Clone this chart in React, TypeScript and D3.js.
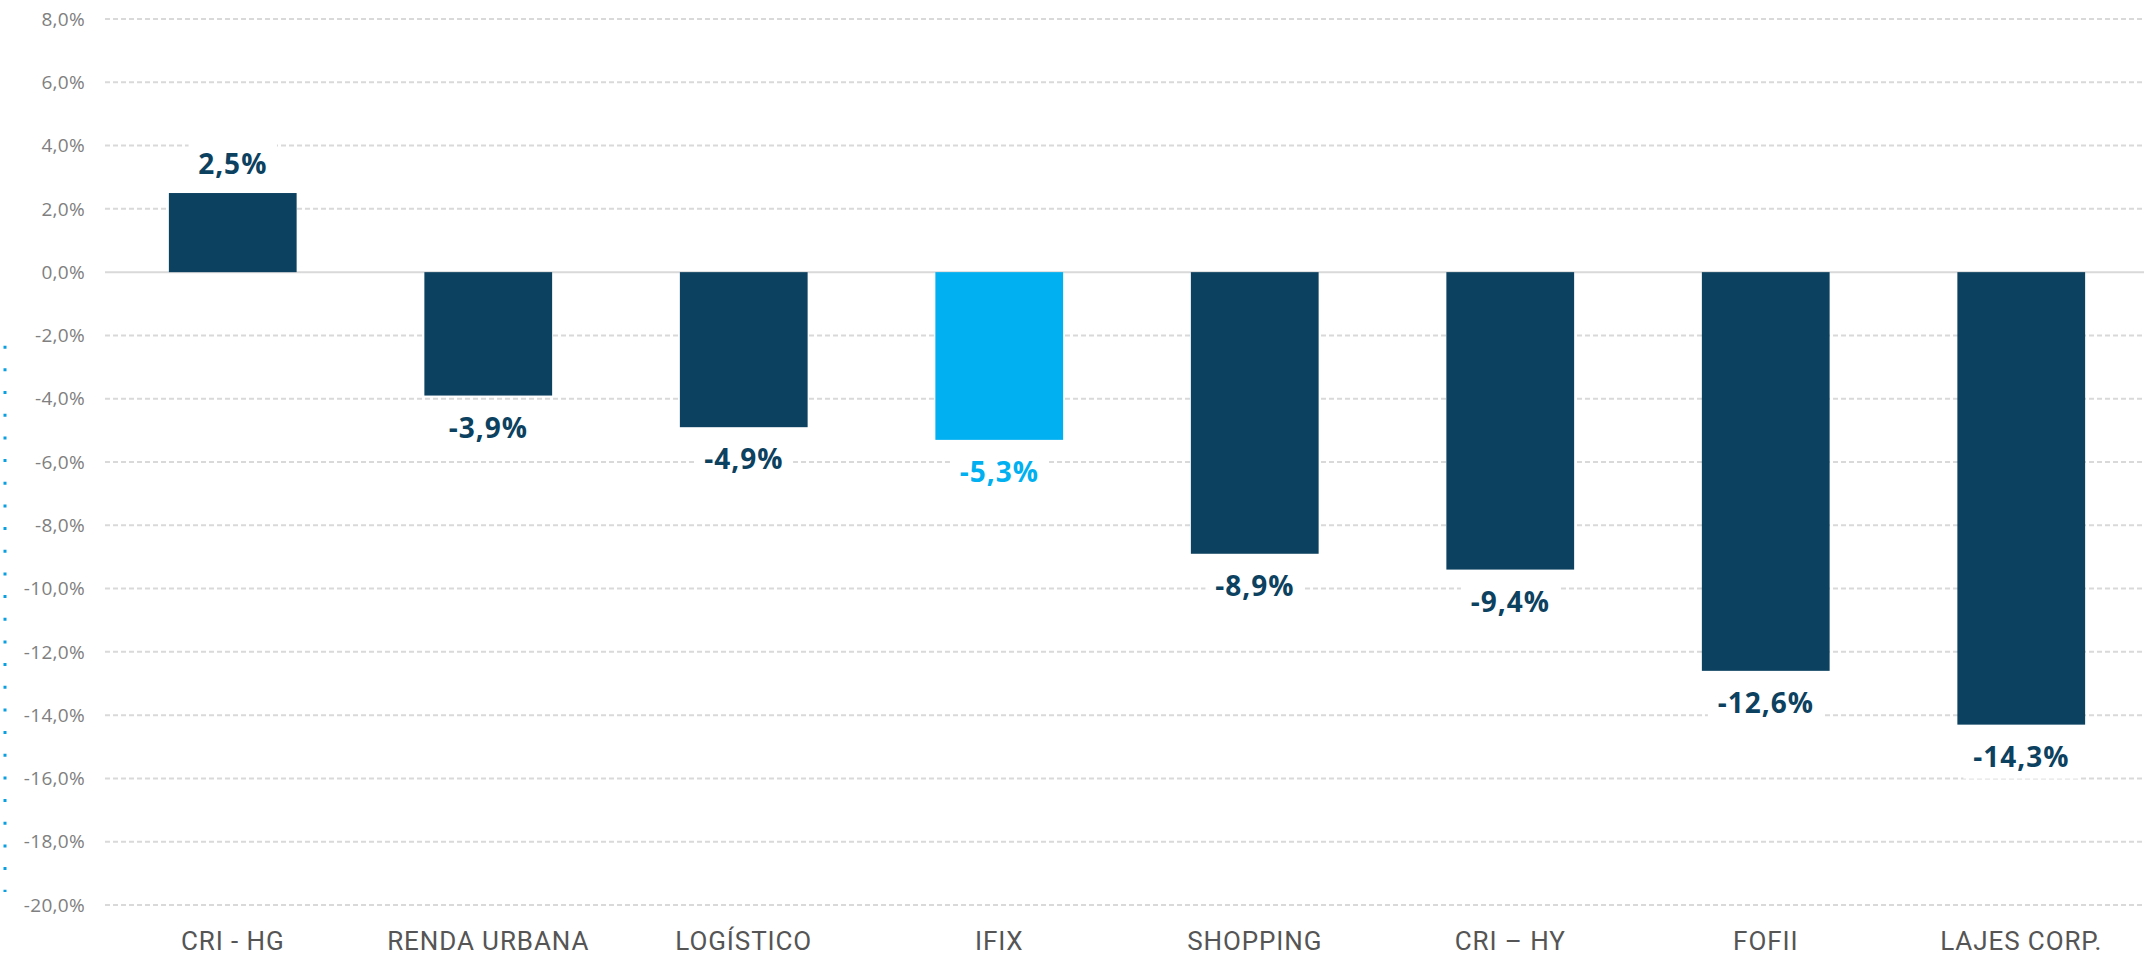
import React from "react";
import * as d3 from "d3";

// categories and returns (%)
const categories = ["CRI - HG", "RENDA URBANA", "LOGÍSTICO", "IFIX", "SHOPPING", "CRI – HY", "FOFII", "LAJES CORP."];
const returns = [2.5, -3.9, -4.9, -5.3, -8.9, -9.4, -12.6, -14.3];
const highlight = ["IFIX"];
const yTicks = [8, 6, 4, 2, 0, -2, -4, -6, -8, -10, -12, -14, -16, -18, -20];

const W = 2144;
const H = 956;
const NAVY = "#0c4160";
const CYAN = "#00b0f0";

const fmt = (v: number) => v.toFixed(1).replace(".", ",") + "%";

// rough width of the bold value label, to size its white backing box
const charW: Record<string, number> = { "-": 0.33, ",": 0.29, "%": 0.86 };
const labelWidth = (s: string, size: number) =>
  s.split("").reduce((acc, c) => acc + (charW[c] ?? 0.575), 0) * size + s.length;

const App = () => {
  const y = d3.scaleLinear().domain([-20, 8]).range([905, 19]);
  const x = d3.scaleBand<string>()
    .domain(categories)
    .range([105, 2149])
    .paddingInner(0.5)
    .paddingOuter(0.25);

  const labelSize = 28;

  // little dotted strip at the far left
  const dotTop = 345.7;
  const dotBottom = 892;

  return (
    <svg
      width={W}
      height={H}
      style={{ position: "absolute", left: 0, top: 0, background: "#fff" }}
      fontFamily="'Open Sans', sans-serif"
    >
      <line
        x1={5}
        x2={5}
        y1={dotTop}
        y2={dotBottom}
        stroke="#0aa0e0"
        strokeWidth={3}
        strokeDasharray="3 19.67"
      />

      {/* grid + y ticks */}
      {yTicks.map((t) => (
        <g key={t}>
          <line
            x1={105}
            x2={W}
            y1={y(t)}
            y2={y(t)}
            stroke="#d9d9d9"
            strokeWidth={2}
            strokeDasharray={t === 0 ? undefined : "5 3"}
          />
          <text
            x={85}
            y={y(t)}
            dy="0.35em"
            textAnchor="end"
            fontSize={19}
            letterSpacing={0.3}
            fill="#808080"
          >
            {fmt(t)}
          </text>
        </g>
      ))}

      {/* bars */}
      {categories.map((c, i) => {
        const v = returns[i];
        const color = highlight.includes(c) ? CYAN : NAVY;
        return (
          <rect
            key={c}
            x={x(c)}
            width={x.bandwidth()}
            y={y(Math.max(0, v))}
            height={Math.abs(y(v) - y(0))}
            fill={color}
          />
        );
      })}

      {/* value labels with white boxes over the grid */}
      {categories.map((c, i) => {
        const v = returns[i];
        const color = highlight.includes(c) ? CYAN : NAVY;
        const cx = (x(c) ?? 0) + x.bandwidth() / 2;
        const cy = v >= 0 ? y(v) - 29 : y(v) + 32;
        const txt = fmt(v);
        const w = labelWidth(txt, labelSize) + 20;
        return (
          <g key={c + "-lbl"}>
            <rect x={cx - w / 2} y={cy - 22} width={w} height={44} fill="#fff" />
            <text
              x={cx}
              y={cy + 10}
              textAnchor="middle"
              fontSize={labelSize}
              fontWeight={700}
              letterSpacing={1}
              fill={color}
            >
              {txt}
            </text>
          </g>
        );
      })}

      {/* category axis */}
      {categories.map((c) => (
        <text
          key={c + "-cat"}
          x={(x(c) ?? 0) + x.bandwidth() / 2}
          y={950}
          textAnchor="middle"
          fontFamily="Roboto, sans-serif"
          fontSize={26}
          letterSpacing={0.9}
          fill="#555"
        >
          {c}
        </text>
      ))}
    </svg>
  );
};

export default App;
